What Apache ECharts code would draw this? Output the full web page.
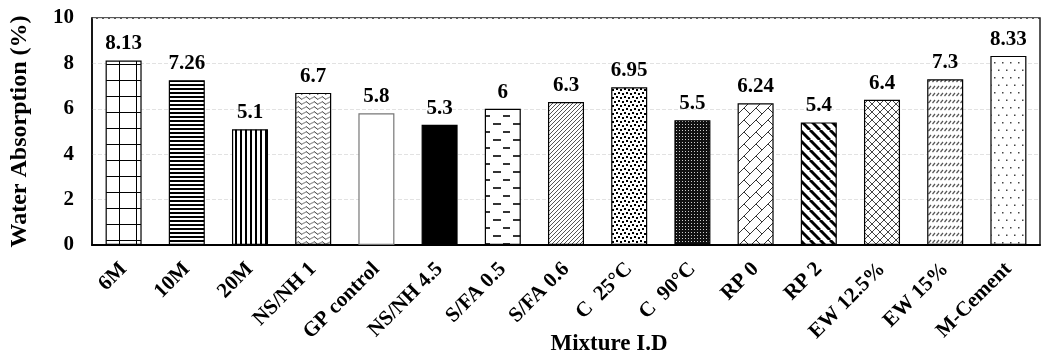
<!DOCTYPE html>
<html>
<head>
<meta charset="utf-8">
<script src="https://cdn.jsdelivr.net/npm/echarts@6/dist/echarts.min.js"></script>
<style>
  html, body { margin: 0; padding: 0; background: #fff; }
  #chart { width: 1041px; height: 360px; }
</style>
</head>
<body>
<div id="chart"></div>
<script>
const categories = ["6M", "10M", "20M", "NS/NH 1", "GP control", "NS/NH 4.5", "S/FA 0.5", "S/FA 0.6",
  "C  25°C", "C  90°C", "RP 0", "RP 2", "EW 12.5%", "EW 15%", "M-Cement"];
const absorption = [8.13, 7.26, 5.1, 6.7, 5.8, 5.3, 6, 6.3, 6.95, 5.5, 6.24, 5.4, 6.4, 7.3, 8.33];
const yTicks = [0, 2, 4, 6, 8, 10];

const FONT = "'Liberation Serif', 'Times New Roman', serif";

// small canvas tiles used as bar fills
function tile(w, h, draw) {
  const c = document.createElement("canvas");
  c.width = w;
  c.height = h;
  const ctx = c.getContext("2d");
  ctx.fillStyle = "#fff";
  ctx.fillRect(0, 0, w, h);
  draw(ctx, w, h);
  return { image: c, repeat: "repeat" };
}

function diag(ctx, s, dir) {
  // seamless 45° lines across a square tile
  for (let k = -1; k <= 1; k++) {
    ctx.beginPath();
    if (dir > 0) {
      ctx.moveTo(k * s, s);
      ctx.lineTo(k * s + s, 0);
    } else {
      ctx.moveTo(k * s, 0);
      ctx.lineTo(k * s + s, s);
    }
    ctx.stroke();
  }
}

// bricks laid along the "/" diagonal
function bricks(ctx, S) {
  const row = S / 2;
  ctx.strokeStyle = "#333";
  ctx.lineWidth = 1;
  ctx.beginPath();
  for (let k = -4; k <= 6; k++) {
    const a = k * row;
    ctx.moveTo(a + S, -S); ctx.lineTo(a - S, S);
    for (let m = -3; m <= 3; m++) {
      const c = m * S + (Math.abs(k) % 2 ? row : 0);
      ctx.moveTo((a + c) / 2, (a - c) / 2);
      ctx.lineTo((a + row + c) / 2, (a + row - c) / 2);
    }
  }
  ctx.stroke();
}

const fills = [
  tile(17, 16, (ctx) => { ctx.fillStyle = "#000"; ctx.fillRect(0, 0, 17, 1); ctx.fillRect(0, 0, 1, 16); }),
  tile(4, 4, (ctx) => { ctx.fillStyle = "#000"; ctx.fillRect(0, 0, 4, 2); }),
  tile(5, 5, (ctx) => { ctx.fillStyle = "#000"; ctx.fillRect(0, 0, 2, 5); }),
  tile(8, 5, (ctx) => {
    ctx.strokeStyle = "#444"; ctx.lineWidth = 1;
    ctx.beginPath(); ctx.moveTo(0, 3.5); ctx.lineTo(2, 1.5); ctx.lineTo(6, 4.5); ctx.lineTo(8, 2.5); ctx.stroke();
  }),
  "#ffffff",
  "#000000",
  tile(20, 16, (ctx) => {
    ctx.fillStyle = "#333";
    ctx.fillRect(3, 3, 7, 2);
    ctx.fillRect(13, 11, 7, 2);
    ctx.fillRect(0, 11, 1, 2);
  }),
  tile(4, 4, (ctx) => { ctx.strokeStyle = "#555"; ctx.lineWidth = 1; diag(ctx, 4, 1); }),
  tile(8, 8, (ctx) => {
    ctx.fillStyle = "#000";
    ctx.fillRect(0, 0, 2, 2); ctx.fillRect(4, 1, 2, 2); ctx.fillRect(2, 4, 2, 2); ctx.fillRect(6, 5, 2, 2);
  }),
  tile(3, 3, (ctx) => { ctx.fillStyle = "#111"; ctx.fillRect(0, 0, 3, 3); ctx.fillStyle = "#ccc"; ctx.fillRect(1, 1, 1, 1); }),
  tile(24, 24, (ctx) => bricks(ctx, 24)),
  tile(10, 10, (ctx) => { ctx.strokeStyle = "#000"; ctx.lineWidth = 3; diag(ctx, 10, -1); }),
  tile(8, 8, (ctx) => { ctx.strokeStyle = "#444"; ctx.lineWidth = 1; diag(ctx, 8, 1); diag(ctx, 8, -1); }),
  tile(4, 7, (ctx) => {
    ctx.strokeStyle = "#555"; ctx.lineWidth = 1.2;
    ctx.beginPath(); ctx.moveTo(0.5, 5); ctx.lineTo(3, 2); ctx.stroke();
  }),
  tile(8, 15, (ctx) => { ctx.fillStyle = "#444"; ctx.fillRect(2, 2, 1.5, 1.5); ctx.fillRect(6, 9.5, 1.5, 1.5); })
];

const chart = echarts.init(document.getElementById("chart"));

const option = {
  animation: false,
  textStyle: { fontFamily: FONT },
  grid: {
    left: 92, right: 1, top: 18, bottom: 115,
    outerBoundsMode: "none",
    show: true, borderColor: "#222", borderWidth: 1.5
  },
  xAxis: {
    type: "category",
    data: categories,
    name: "Mixture I.D",
    nameLocation: "middle",
    nameGap: 88,
    nameMoveOverlap: false,
    nameTextStyle: { fontFamily: FONT, fontWeight: "bold", fontSize: 23, color: "#000", padding: [0, 0, 0, 86] },
    axisLine: { lineStyle: { color: "#000", width: 2 } },
    axisTick: { show: false },
    axisLabel: { rotate: 45, interval: 0, margin: 21, fontFamily: FONT, fontWeight: "bold", fontSize: 21, color: "#000" }
  },
  yAxis: {
    type: "value",
    min: yTicks[0],
    max: yTicks[yTicks.length - 1],
    interval: 2,
    name: "Water Absorption (%)",
    nameLocation: "middle",
    nameGap: 60,
    nameMoveOverlap: false,
    nameTextStyle: { fontFamily: FONT, fontWeight: "bold", fontSize: 24, color: "#000" },
    axisLine: { show: true, lineStyle: { color: "#000", width: 1.5 } },
    axisTick: { show: false },
    axisLabel: { margin: 18, fontFamily: FONT, fontWeight: "bold", fontSize: 21, color: "#000" },
    splitLine: { lineStyle: { color: "#e2e2e2", type: "dashed", width: 1 } }
  },
  series: [{
    type: "bar",
    barWidth: "57%",
    data: absorption.map((v, i) => ({
      value: v,
      itemStyle: { color: fills[i], borderColor: i === 4 ? "#777" : "#000", borderWidth: 1.2 }
    })),
    label: {
      show: true,
      position: "top",
      distance: 6,
      fontFamily: FONT,
      fontWeight: "bold",
      fontSize: 21,
      color: "#000"
    }
  }]
};

chart.setOption(option);
</script>
</body>
</html>
